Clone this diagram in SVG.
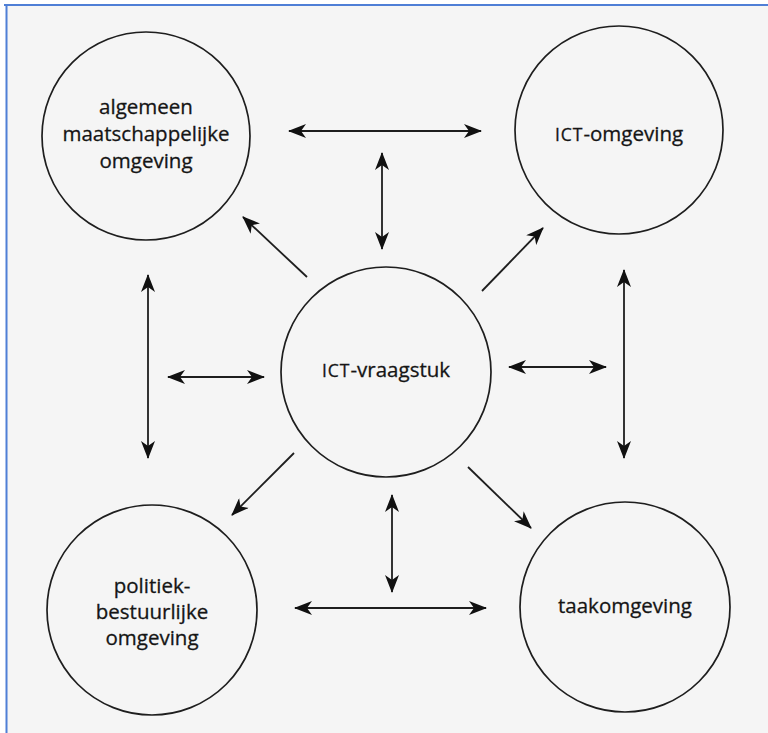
<svg xmlns="http://www.w3.org/2000/svg" width="768" height="733" viewBox="0 0 768 733">
  <style>
    .node circle { fill: none; stroke: #1e1e1e; stroke-width: 1.7; }
    .node text { font-family: "Open Sans", "Noto Sans", "Liberation Sans", sans-serif; font-size: 20.5px; fill: #151515; stroke: #151515; stroke-width: 0.3; text-anchor: middle; }
    .sc { font-size: 17.5px; letter-spacing: 1px; }
    .conn line { stroke: #1e1e1e; stroke-width: 1.8; fill: none; }
    .both { marker-start: url(#ah); marker-end: url(#ah); }
    .one { marker-end: url(#ah); }
  </style>
  <defs>
    <marker id="ah" viewBox="0 0 18 14" refX="17" refY="7" markerWidth="18" markerHeight="14" markerUnits="userSpaceOnUse" orient="auto-start-reverse">
      <path d="M0,0 L18,7 L0,14 L5,7 Z" fill="#111"/>
    </marker>
  </defs>

  <rect x="0" y="0" width="768" height="733" fill="#ffffff"/>
  <rect x="6" y="5" width="762" height="728" fill="#f5f5f5"/>
  <line x1="4" y1="5" x2="768" y2="5" stroke="#4f7fd6" stroke-width="2"/>
  <line x1="6.5" y1="5" x2="6.5" y2="733" stroke="#4f7fd6" stroke-width="2"/>

  <g id="node-algemeen" class="node">
    <circle cx="146" cy="136" r="104"/>
    <text x="146" y="114">algemeen</text>
    <text x="146" y="141">maatschappelijke</text>
    <text x="146" y="168">omgeving</text>
  </g>
  <g id="node-ict-omgeving" class="node">
    <circle cx="619" cy="130" r="104"/>
    <text x="619" y="141"><tspan class="sc">ICT</tspan>-omgeving</text>
  </g>
  <g id="node-ict-vraagstuk" class="node">
    <circle cx="386" cy="372" r="105"/>
    <text x="386" y="377"><tspan class="sc">ICT</tspan>-vraagstuk</text>
  </g>
  <g id="node-politiek" class="node">
    <circle cx="152" cy="610" r="105"/>
    <text x="152" y="593">politiek-</text>
    <text x="152" y="619">bestuurlijke</text>
    <text x="152" y="645">omgeving</text>
  </g>
  <g id="node-taak" class="node">
    <circle cx="625" cy="607" r="105"/>
    <text x="625" y="613">taakomgeving</text>
  </g>

  <g id="connectors" class="conn">
    <line class="both" x1="289" y1="131" x2="481" y2="131"/>
    <line class="both" x1="382" y1="153" x2="382" y2="249"/>
    <line class="one" x1="307" y1="277" x2="243" y2="217"/>
    <line class="one" x1="482" y1="291" x2="543" y2="228"/>
    <line class="both" x1="148" y1="275" x2="148" y2="458"/>
    <line class="both" x1="168" y1="377" x2="264" y2="377"/>
    <line class="both" x1="509" y1="367" x2="606" y2="367"/>
    <line class="both" x1="624" y1="270" x2="624" y2="458"/>
    <line class="one" x1="294" y1="453" x2="232" y2="515"/>
    <line class="one" x1="468" y1="467" x2="531" y2="528"/>
    <line class="both" x1="392" y1="495" x2="392" y2="592"/>
    <line class="both" x1="295" y1="608" x2="486" y2="608"/>
  </g>
</svg>
